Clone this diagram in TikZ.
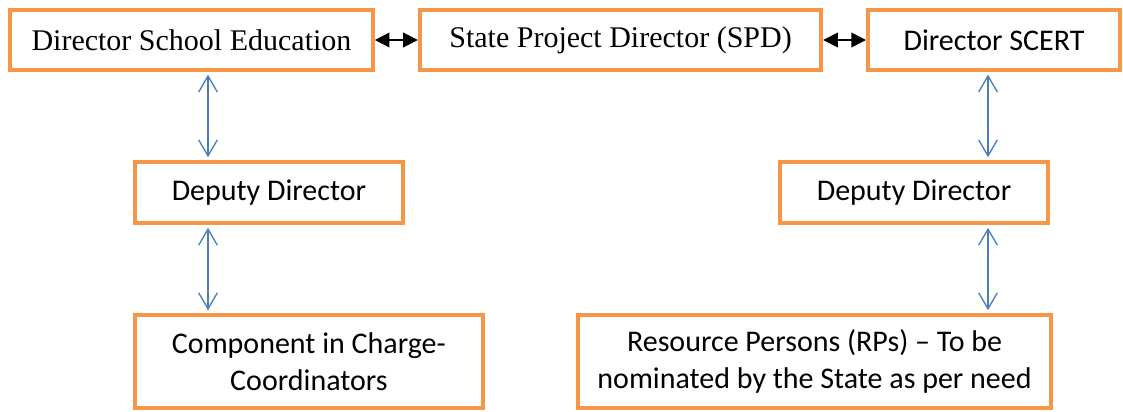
\documentclass[tikz,border=0pt]{standalone}
\usepackage{fontspec}
\setmainfont{Carlito}
\newfontfamily\timesfont{Liberation Serif}
\usetikzlibrary{arrows.meta,positioning}
\definecolor{boxorange}{HTML}{F79646}
\definecolor{linkblue}{HTML}{4A7EBB}

\begin{document}
\begin{tikzpicture}[on grid,
    box/.style={draw=boxorange, line width=3pt, fill=white, inner sep=0pt,
                align=center, font=\fontsize{22.5}{27.5}\selectfont},
    serifbox/.style={box, font=\timesfont\fontsize{22.5}{27.5}\selectfont},
    updown/.style={draw=linkblue, line width=1pt, <->,
                   >={Straight Barb[length=12pt,width=14pt]},
                   shorten <=2pt, shorten >=2pt},
    sideways/.style={draw=black, line width=1.1pt, <->,
                     >={Triangle[length=11pt,width=11pt]}}]
   \useasboundingbox (0,0) rectangle (842.25pt,-308.25pt);

   % top row
   \node[serifbox, minimum width=272pt, minimum height=45pt] (dse) at (143.6pt,-30pt)
        {Director School Education};
   \node[serifbox, minimum width=301pt, minimum height=45pt] (spd) [right=321.8pt of dse]
        {State Project Director (SPD)};
   \node[box, minimum width=189pt, minimum height=45pt] (scert) [right=280.1pt of spd]
        {Director SCERT};

   % deputies
   \node[box, minimum width=201pt, minimum height=46pt] (ddl) [below right=114.4pt and 58.1pt of dse]
        {Deputy Director};
   \node[box, minimum width=201pt, minimum height=46pt] (ddr) [below left=114.4pt and 60pt of scert]
        {Deputy Director};

   % bottom row
   \node[box, minimum width=261pt, minimum height=70pt] (cic) [below right=126.7pt and 30pt of ddl]
        {Component in Charge-\\Coordinators};
   \node[box, minimum width=355pt, minimum height=70pt] (rp) [below left=126.7pt and 74.6pt of ddr]
        {Resource Persons (RPs) -- To be\\nominated by the State as per need};

   \coordinate (lx) at (156pt,0);
   \coordinate (rx) at (741pt,0);

   \path[sideways]
    (dse) edge (spd)
    (spd) edge (scert);

   \draw[updown] (dse.south -| lx) -- (ddl.north -| lx);
   \draw[updown] (ddl.south -| lx) -- (cic.north -| lx);
   \draw[updown] (scert.south -| rx) -- (ddr.north -| rx);
   \draw[updown] (ddr.south -| rx) -- (rp.north -| rx);
\end{tikzpicture}
\end{document}
